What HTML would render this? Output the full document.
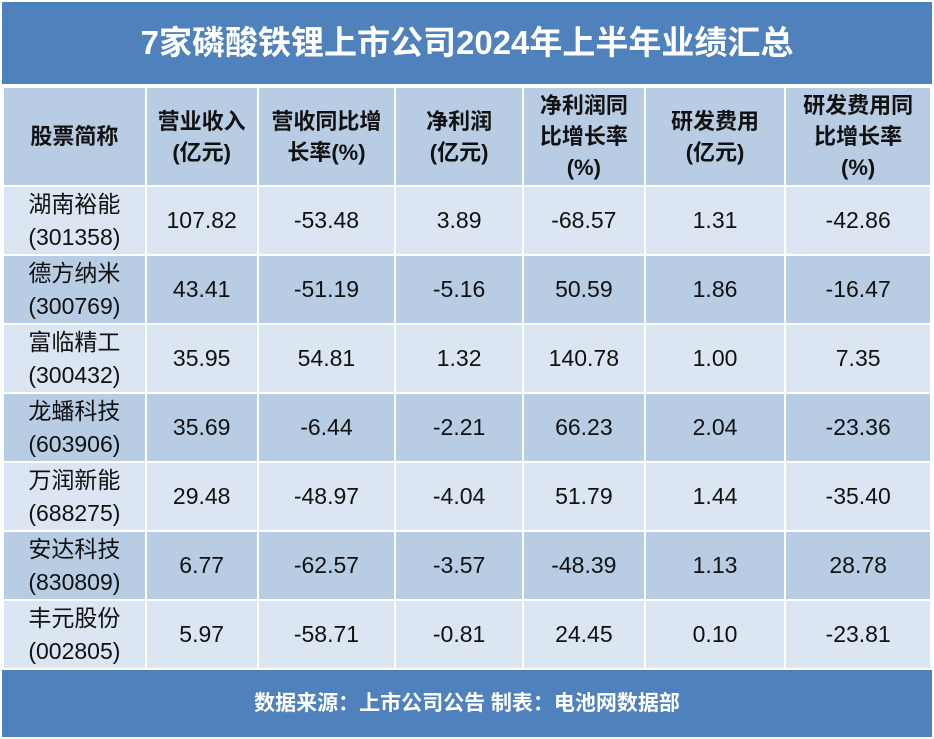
<!DOCTYPE html><html><head><meta charset="utf-8"><style>
body{margin:0;width:934px;height:739px;background:#fff;font-family:"Liberation Sans","Noto Sans CJK SC",sans-serif;position:relative;overflow:hidden}
.bar{position:absolute;left:2px;width:930px;background:#4f81bd;color:#fff;font-weight:bold;text-align:center}
table{position:absolute;left:2px;top:86px;border-collapse:collapse;width:930px}
td{border:2px solid #fff;text-align:center;font-size:23px;color:#111;padding:0;line-height:33px}
tr.h td{background:#b8cce4;font-weight:bold;height:97px;font-size:22px;line-height:31px}
tr.a td{background:#dce6f2;height:67px}
tr.b td{background:#b8cce4;height:67px}
</style></head><body>
<div class="bar" style="top:2px;height:82px;line-height:82px;font-size:33px">7家磷酸铁锂上市公司2024年上半年业绩汇总</div>
<table>
<colgroup><col style="width:143px"><col style="width:112px"><col style="width:138px"><col style="width:128px"><col style="width:122px"><col style="width:141px"><col style="width:146px"></colgroup>
<tr class="h"><td>股票简称</td><td>营业收入<br>(亿元)</td><td>营收同比增<br>长率(%)</td><td>净利润<br>(亿元)</td><td>净利润同<br>比增长率<br>(%)</td><td>研发费用<br>(亿元)</td><td>研发费用同<br>比增长率<br>(%)</td></tr>
<tr class="a"><td>湖南裕能<br>(301358)</td><td>107.82</td><td>-53.48</td><td>3.89</td><td>-68.57</td><td>1.31</td><td>-42.86</td></tr>
<tr class="b"><td>德方纳米<br>(300769)</td><td>43.41</td><td>-51.19</td><td>-5.16</td><td>50.59</td><td>1.86</td><td>-16.47</td></tr>
<tr class="a"><td>富临精工<br>(300432)</td><td>35.95</td><td>54.81</td><td>1.32</td><td>140.78</td><td>1.00</td><td>7.35</td></tr>
<tr class="b"><td>龙蟠科技<br>(603906)</td><td>35.69</td><td>-6.44</td><td>-2.21</td><td>66.23</td><td>2.04</td><td>-23.36</td></tr>
<tr class="a"><td>万润新能<br>(688275)</td><td>29.48</td><td>-48.97</td><td>-4.04</td><td>51.79</td><td>1.44</td><td>-35.40</td></tr>
<tr class="b"><td>安达科技<br>(830809)</td><td>6.77</td><td>-62.57</td><td>-3.57</td><td>-48.39</td><td>1.13</td><td>28.78</td></tr>
<tr class="a"><td>丰元股份<br>(002805)</td><td>5.97</td><td>-58.71</td><td>-0.81</td><td>24.45</td><td>0.10</td><td>-23.81</td></tr>
</table>
<div class="bar" style="top:670px;height:67px;line-height:67px;font-size:21px">数据来源：上市公司公告 制表：电池网数据部</div>
</body></html>
